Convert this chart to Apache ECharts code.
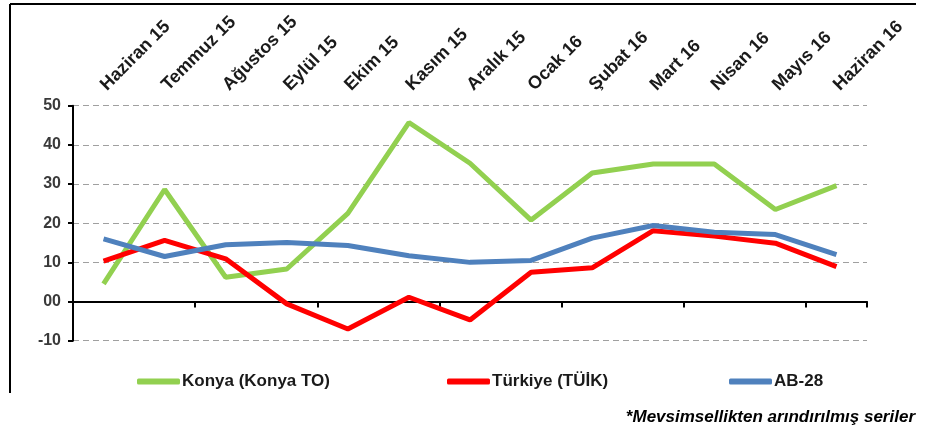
<!DOCTYPE html>
<html>
<head>
<meta charset="utf-8">
<script src="https://cdn.jsdelivr.net/npm/echarts@6/dist/echarts.min.js"></script>
<style>
html,body{margin:0;padding:0;background:#fff;}
#c{width:930px;height:434px;}
</style>
</head>
<body>
<div id="c"></div>
<script>
const categories = ['Haziran 15','Temmuz 15','Ağustos 15','Eylül 15','Ekim 15','Kasım 15','Aralık 15','Ocak 16','Şubat 16','Mart 16','Nisan 16','Mayıs 16','Haziran 16'];
const konya = [4.5, 28.6, 6.2, 8.3, 22.5, 45.7, 35.3, 20.8, 32.8, 35.1, 35.1, 23.5, 29.6];
const turkiye = [10.3, 15.6, 10.9, -0.6, -7.0, 1.1, -4.7, 7.5, 8.6, 18.1, 16.7, 14.9, 8.9];
const ab28 = [16.0, 11.5, 14.5, 15.1, 14.3, 11.7, 10.0, 10.5, 16.2, 19.4, 17.7, 17.1, 12.0];
const seriesNames = ['Konya (Konya TO)', 'Türkiye (TÜİK)', 'AB-28'];
const yTicks = {min: -10, max: 50, interval: 10};
const footnote = '*Mevsimsellikten arındırılmış seriler';

const FONT = '"Liberation Sans", Arial, sans-serif';
const colors = ['#92D050', '#FF0000', '#4F81BD'];
const chart = echarts.init(document.getElementById('c'), null, {renderer: 'canvas'});

function legendFor(i, left) {
  return {
    data: [seriesNames[i]], left: left, top: 368,
    icon: 'roundRect', itemWidth: 43, itemHeight: 6,
    itemStyle: {color: colors[i]},
    textStyle: {fontFamily: FONT, fontSize: 17, fontWeight: 'bold', color: '#1a1a1a', padding: [0,0,0,-3]}
  };
}

chart.setOption({
  animation: false,
  backgroundColor: '#fff',
  grid: {left: 73, right: 63, top: 105.7, bottom: 93.3, containLabel: false},
  legend: [legendFor(0, 132), legendFor(1, 442), legendFor(2, 724)],
  xAxis: [
    {
      type: 'category', data: categories, position: 'bottom', boundaryGap: true,
      axisLine: {onZero: true, lineStyle: {color: '#000', width: 2}},
      axisTick: {show: true, length: 6, lineStyle: {color: '#000', width: 2}},
      axisLabel: {show: false}, splitLine: {show: false}
    },
    {
      type: 'category', data: categories, position: 'top', boundaryGap: true,
      axisLine: {show: false, onZero: false}, axisTick: {show: false},
      axisLabel: {show: true, rotate: -45, margin: 18, interval: 0,
        fontFamily: FONT, fontSize: 18, fontWeight: 'bold', color: '#1a1a1a'},
      splitLine: {show: false}
    }
  ],
  yAxis: {
    type: 'value', min: yTicks.min, max: yTicks.max, interval: yTicks.interval,
    axisLine: {show: true, lineStyle: {color: '#000', width: 2}},
    axisTick: {show: true, length: 5, lineStyle: {color: '#000', width: 2}},
    axisLabel: {margin: 12, fontFamily: FONT, fontSize: 16, fontWeight: 'bold', color: '#3a3a3a',
      formatter: v => v === 0 ? '00' : String(v)},
    splitLine: {show: true, lineStyle: {color: '#a0a0a0', width: 1, type: [6, 4]}}
  },
  series: [
    {name: seriesNames[0], type: 'line', data: konya, xAxisIndex: 0, showSymbol: false, symbol: 'none',
      lineStyle: {color: colors[0], width: 5}, itemStyle: {color: colors[0]}},
    {name: seriesNames[1], type: 'line', data: turkiye, xAxisIndex: 0, showSymbol: false, symbol: 'none',
      lineStyle: {color: colors[1], width: 5}, itemStyle: {color: colors[1]}},
    {name: seriesNames[2], type: 'line', data: ab28, xAxisIndex: 0, showSymbol: false, symbol: 'none',
      lineStyle: {color: colors[2], width: 5}, itemStyle: {color: colors[2]}}
  ],
  graphic: [
    {type: 'line', shape: {x1: 10, y1: 4, x2: 916, y2: 4}, style: {stroke: '#000', lineWidth: 2}},
    {type: 'line', shape: {x1: 10, y1: 4, x2: 10, y2: 393}, style: {stroke: '#000', lineWidth: 2}},
    {type: 'text', right: 15, top: 409, style: {text: footnote, fontFamily: FONT, fontSize: 17,
      fontWeight: 'bold', fontStyle: 'italic', fill: '#000'}}
  ]
});
</script>
</body>
</html>
